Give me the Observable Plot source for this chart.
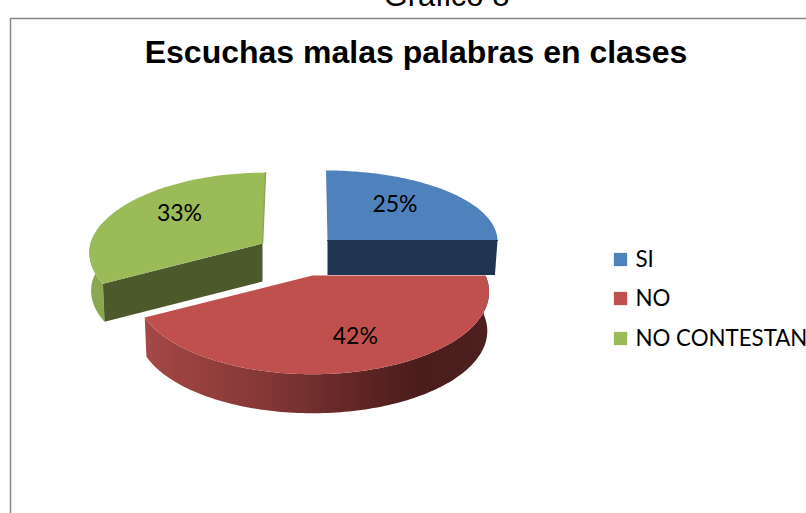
<!DOCTYPE html>
<html><head><meta charset="utf-8">
<script src="https://cdn.jsdelivr.net/npm/d3@7"></script>
<script src="https://cdn.jsdelivr.net/npm/@observablehq/plot@0.6"></script>
<style>html,body{margin:0;padding:0;background:#fff}svg{display:block}</style>
</head><body><div id="chart"></div>
<script>
const categories = ["SI", "NO", "NO CONTESTAN"];
const values = [25, 42, 33];
const labels = ["25%", "42%", "33%"];
const colors = ["#4f81bd", "#c0504d", "#9bbb59"];
const innerWalls = ["#1f3552", "#7f3332", "#4c5a2b"];

const W = 806, H = 513;
// perspective layout of each exploded slice (apex, radii, foreshortening, wall depth, label position)
const layout = [
  {cx:327, cy:240, rx:170, ry:70, k:0,    sk:1.5, depth:34.5, taper:0.985, lr:0.6,  ldx:-4, ldy:-6},
  {cx:312, cy:275, rx:173, ry:79, k:0.2,  sk:0,   depth:39, taper:0.99,  lr:0.7,  ldx:8, ldy:-1},
  {cx:262, cy:243, rx:172, ry:79, k:0.115,sk:-3,  depth:38, taper:0.99,  lr:0.55, ldx:-5, ldy:-8}
];

const arcs = d3.pie().sort(null)(values); // clockwise from 12 o'clock
function project(s, a, r = 1) {
  const u = r * Math.sin(a), v = -r * Math.cos(a), d = 1 - s.k * v;
  return [s.cx + s.rx * u / d + (v < 0 ? s.sk * v : 0), s.cy + s.ry * v / d];
}
function arcPts(s, a0, a1) {
  const n = Math.max(2, Math.ceil(Math.abs(a1 - a0) / 0.02));
  return d3.range(n + 1).map(i => project(s, a0 + (a1 - a0) * i / n));
}
const drop = (s, p) => [s.cx + (p[0] - s.cx) * s.taper, p[1] + s.depth];

const poly = (pts, fill) => Plot.line([...pts, pts[0]], {x: d => d[0], y: d => d[1], fill, stroke: "none"});
const edge = (pts, stroke, strokeWidth) => Plot.line(pts, {x: d => d[0], y: d => d[1], stroke, strokeWidth});

function sliceMarks(i) {
  const s = layout[i], a = arcs[i], apex = [s.cx, s.cy];
  const top = arcPts(s, a.startAngle, a.endAngle);
  const first = top[0], last = top[top.length - 1];
  const marks = [];
  if (i === 1) marks.push(poly([...top, ...top.map(p => drop(s, p)).reverse()], "url(#redSide)"));
  if (i === 2) {
    const part = top.slice(0, 40);
    marks.push(poly([...part, ...part.map(p => drop(s, p)).reverse()], "#8ba850"));
    marks.push(poly([apex, first, drop(s, first), drop(s, apex)], innerWalls[2]));
  }
  if (i === 0) marks.push(poly([apex, last, drop(s, last), drop(s, apex)], innerWalls[0]));
  marks.push(poly([apex, ...top], colors[i]));
  if (i === 0) marks.push(edge([apex, last], colors[0], 0.5), edge([last, [last[0], last[1]]], innerWalls[0], 1));
  if (i === 0) marks.push(edge([top[top.length - 1], apex], innerWalls[0], 1));
  if (i === 2) marks.push(edge([last, apex], "#8ba850", 1.5));
  return marks;
}

const mid = i => (arcs[i].startAngle + arcs[i].endAngle) / 2;
const labelData = labels.map((t, i) => {
  const p = project(layout[i], mid(i), layout[i].lr);
  return {t, x: p[0] + layout[i].ldx, y: p[1] + layout[i].ldy};
});

const gradient = () => {
  const svg = d3.create("svg:defs");
  const g = svg.append("linearGradient").attr("id", "redSide");
  [[0, "#a54846"], [0.35, "#843736"], [0.65, "#5c2423"], [0.8, "#4a1c1b"], [1, "#4d1f1e"]]
    .forEach(([o, c]) => g.append("stop").attr("offset", o).attr("stop-color", c));
  return svg.node();
};

const legendX = 613, legendY = [259, 298, 338];

const chart = Plot.plot({
  width: W, height: H, margin: 0,
  x: {domain: [0, W], range: [0, W], axis: null},
  y: {domain: [0, H], range: [0, H], axis: null},
  style: {background: "#fff", overflow: "hidden"},
  marks: [
    gradient,
    Plot.ruleX([10], {y1: 18, y2: H, stroke: "#868686", strokeWidth: 1.5}),
    Plot.ruleY([18], {x1: 10, x2: W, stroke: "#868686", strokeWidth: 1.5}),
    Plot.text(["Grafico 8"], {x: 446, y: 5, text: d => d, fontFamily: "Liberation Sans", fontSize: 31, fill: "#000", textAnchor: "middle", lineAnchor: "bottom"}),
    Plot.text(["Escuchas malas palabras en clases"], {x: 415.5, y: 62, text: d => d, fontFamily: "Liberation Sans", fontWeight: "bold", fontSize: 32, fill: "#000", textAnchor: "middle", lineAnchor: "bottom"}),
    ...sliceMarks(2),
    ...sliceMarks(1),
    ...sliceMarks(0),
    Plot.text(labelData, {x: "x", y: "y", text: "t", fontFamily: "Lato", fontSize: 23, fill: "#000", textAnchor: "middle", lineAnchor: "middle"}),
    Plot.dot(categories, {x: legendX + 7, y: (d, i) => legendY[i], symbol: "square", r: 7.5, fill: (d, i) => colors[i]}),
    Plot.text(categories, {x: legendX + 22, y: (d, i) => legendY[i], text: d => d, fontFamily: "Lato", fontSize: 22.3, fill: "#000", textAnchor: "start", lineAnchor: "middle"})
  ]
});
document.getElementById("chart").append(chart);
</script></body></html>
